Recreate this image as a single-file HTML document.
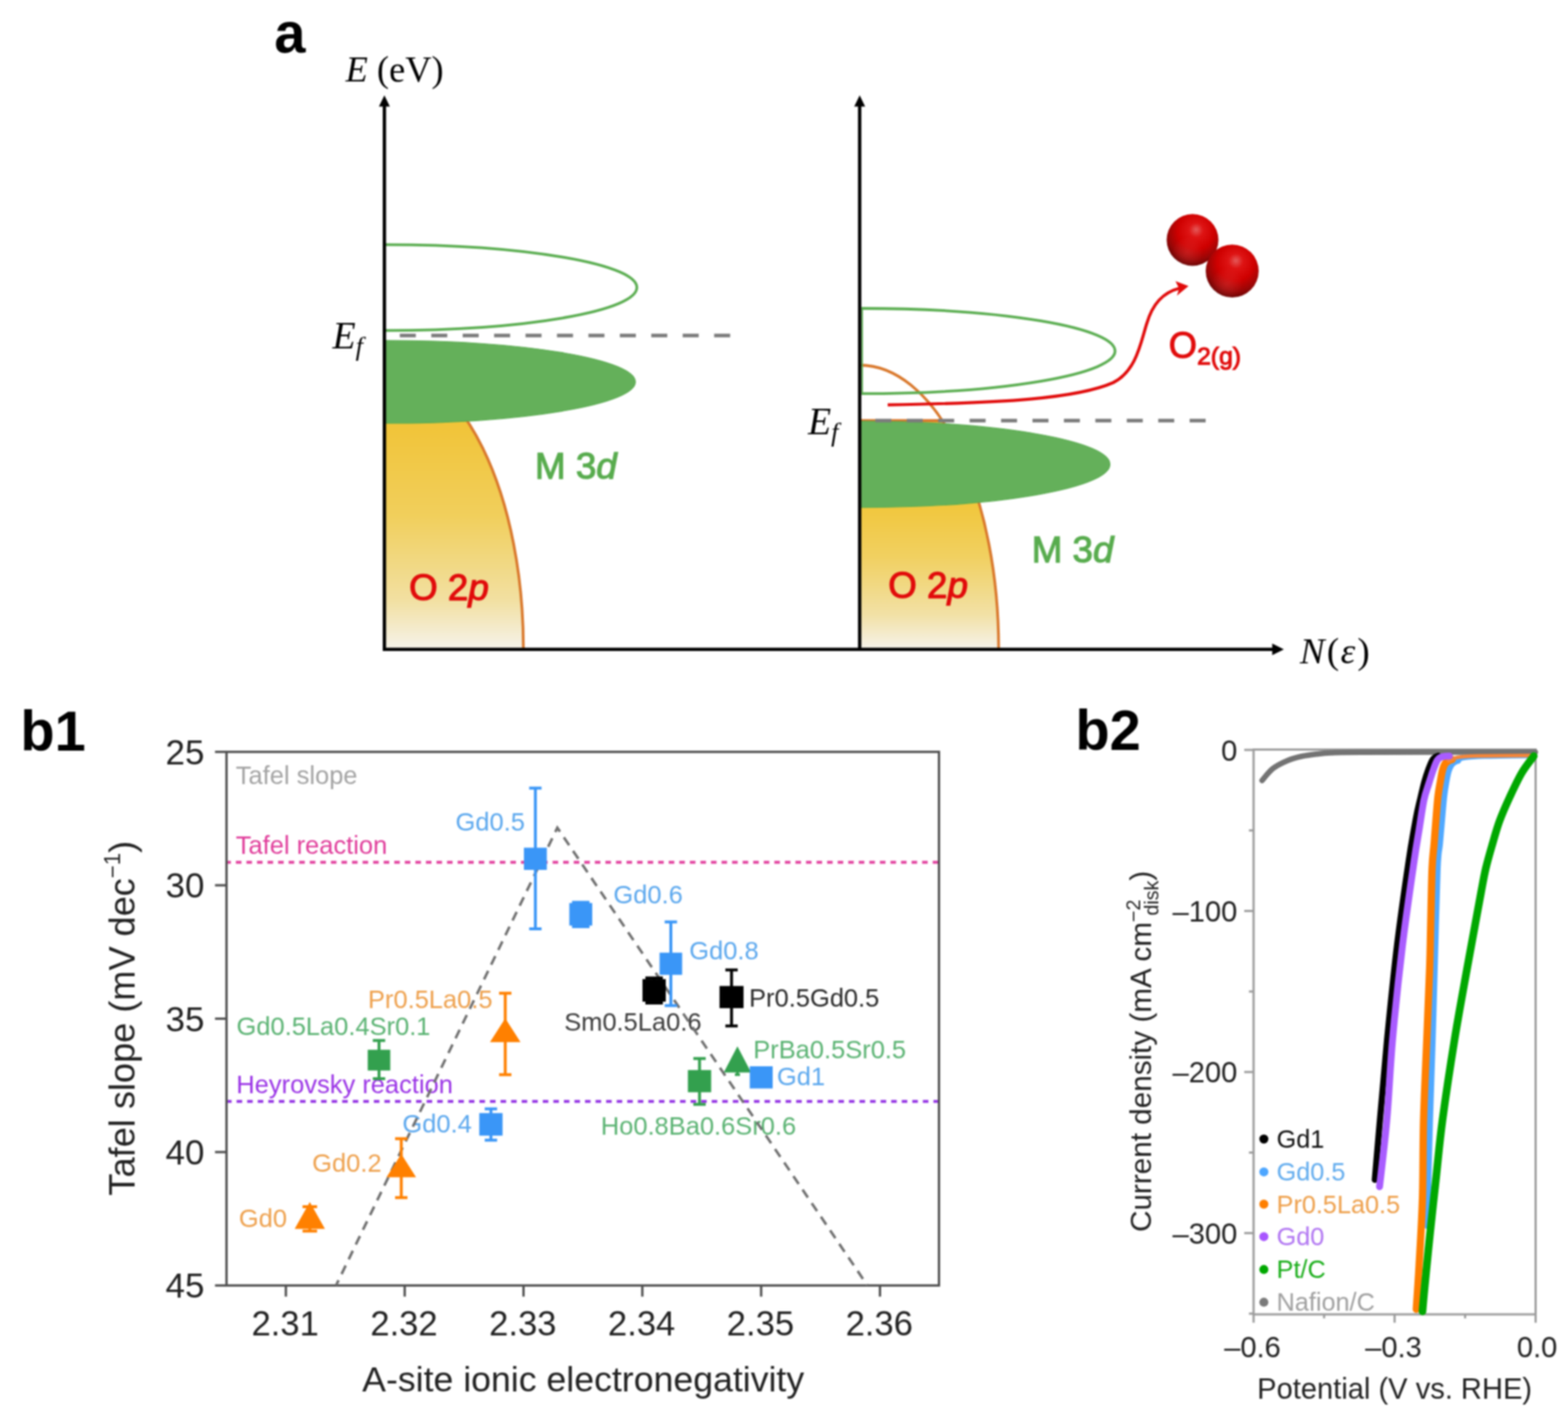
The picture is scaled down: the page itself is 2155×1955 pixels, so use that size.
<!DOCTYPE html>
<html><head><meta charset="utf-8"><title>Figure</title>
<style>
html,body{margin:0;padding:0;background:#fff;}
svg{display:block;}
</style></head>
<body>
<svg xmlns="http://www.w3.org/2000/svg" width="2155" height="1955" viewBox="0 0 2155 1955">
<defs><filter id="soft" color-interpolation-filters="sRGB" filterUnits="userSpaceOnUse" x="0" y="0" width="2155" height="1955"><feGaussianBlur stdDeviation="1"/></filter></defs>
<rect width="2155" height="1955" fill="#fff"/>
<g filter="url(#soft)">
<defs>
<linearGradient id="yel" gradientUnits="userSpaceOnUse" x1="0" y1="560" x2="0" y2="892"><stop offset="0" stop-color="#f1c232"/><stop offset="0.45" stop-color="#f1cf5c"/><stop offset="0.8" stop-color="#f2e0a2"/><stop offset="1" stop-color="#f6f3ea"/></linearGradient>
<linearGradient id="yel2" gradientUnits="userSpaceOnUse" x1="0" y1="680" x2="0" y2="892"><stop offset="0" stop-color="#f1c535"/><stop offset="0.4" stop-color="#f1d060"/><stop offset="0.78" stop-color="#f2e1a6"/><stop offset="1" stop-color="#f6f3ea"/></linearGradient>
<radialGradient id="sph" cx="0.56" cy="0.36" r="0.7" fx="0.57" fy="0.3"><stop offset="0" stop-color="#e45a5a"/><stop offset="0.2" stop-color="#de1414"/><stop offset="0.5" stop-color="#cf0000"/><stop offset="0.76" stop-color="#9a0606"/><stop offset="0.92" stop-color="#6a0404"/><stop offset="1" stop-color="#4a0000"/></radialGradient>
<clipPath id="clipL"><rect x="0" y="525" width="1100" height="368"/></clipPath>
<clipPath id="clipR"><rect x="1100" y="578.5" width="700" height="314"/></clipPath>
</defs>
<text x="377" y="71.5" font-family="'Liberation Sans', Arial, Helvetica, sans-serif" font-weight="bold" font-size="77">a</text>
<text x="475" y="111.5" font-family="'Liberation Serif', 'Times New Roman', serif" font-size="50"><tspan font-style="italic">E</tspan> (eV)</text>
<path d="M528.3,891 L528.3,502 A191,389 0 0 1 719.3,891 Z" fill="url(#yel)" clip-path="url(#clipL)"/>
<path d="M528.3,502 A191,389 0 0 1 719.3,891" fill="none" stroke="#d9782c" stroke-width="3.8"/>
<path d="M528.3,468 A345,57 0 0 1 528.3,582 Z" fill="#64b05a" stroke="#5aab50" stroke-width="1.2"/>
<path d="M529.8,336.3 A345.5,59 0 0 1 529.8,454.3" fill="none" stroke="#5cae52" stroke-width="3.8"/>
<line x1="549.5" y1="461.3" x2="1004" y2="461.3" stroke="#7c7c7c" stroke-width="5" stroke-dasharray="22 21.2"/>
<path d="M1181.5,891 L1181.5,502 A191,389 0 0 1 1372.5,891 Z" fill="url(#yel2)" clip-path="url(#clipR)"/>
<path d="M1181.5,502 A191,389 0 0 1 1372.5,891" fill="none" stroke="#d9782c" stroke-width="3.8"/>
<line x1="1181.5" y1="578.3" x2="1291" y2="578.3" stroke="#d9782c" stroke-width="4"/>
<path d="M1181.5,579.1 A344,59.3 0 0 1 1181.5,697.7 Z" fill="#64b05a" stroke="#5aab50" stroke-width="1.2"/>
<path d="M1184,424 A348.5,58.6 0 0 1 1184,541.2" fill="none" stroke="#5cae52" stroke-width="3.8"/>
<line x1="1185.1" y1="422.9" x2="1185.1" y2="542.3" stroke="#5cae52" stroke-width="2"/>
<line x1="1203" y1="578.3" x2="1657" y2="578.3" stroke="#7c7c7c" stroke-width="5" stroke-dasharray="22 21.2"/>
<path d="M1220,556.6 C1380,554 1480,548 1530,526 C1562,510 1568,470 1576,445 C1584,418 1598,402 1622,396" fill="none" stroke="#e10b0b" stroke-width="4.2"/>
<path d="M1633.5,393.2 L1615.5,386.5 L1620.5,396.8 L1617.5,406.5 Z" fill="#e10b0b"/>
<radialGradient id="refl" cx="0.4" cy="0.74" r="0.3"><stop offset="0" stop-color="#e04848" stop-opacity="0.35"/><stop offset="1" stop-color="#e85050" stop-opacity="0"/></radialGradient>
<circle cx="1639" cy="329.8" r="35.6" fill="url(#sph)"/>
<circle cx="1639" cy="329.8" r="35.6" fill="url(#refl)"/>
<circle cx="1693.5" cy="372.6" r="36.4" fill="url(#sph)"/>
<circle cx="1693.5" cy="372.6" r="36.4" fill="url(#refl)"/>
<line x1="528.3" y1="894.8" x2="528.3" y2="145" stroke="#000" stroke-width="4.6"/>
<path d="M528.3,131 L520.8,146.5 L535.8,146.5 Z" fill="#000"/>
<line x1="1181.5" y1="894.8" x2="1181.5" y2="145" stroke="#000" stroke-width="4.6"/>
<path d="M1181.5,131 L1174,146.5 L1189,146.5 Z" fill="#000"/>
<line x1="526" y1="892.8" x2="1750" y2="892.8" stroke="#000" stroke-width="4.6"/>
<path d="M1764.5,892.8 L1748.5,884.8 L1748.5,900.8 Z" fill="#000"/>
<text x="457" y="478.5" font-family="'Liberation Serif', 'Times New Roman', serif" font-size="52" font-style="italic">E<tspan font-size="36" dy="9">f</tspan></text>
<text x="1110.5" y="596.5" font-family="'Liberation Serif', 'Times New Roman', serif" font-size="52" font-style="italic">E<tspan font-size="36" dy="9">f</tspan></text>
<text x="562.3" y="825" font-family="'Liberation Sans', Arial, Helvetica, sans-serif" font-size="50.5" fill="#e10b0b" stroke="#e10b0b" stroke-width="1.5">O 2<tspan font-style="italic">p</tspan></text>
<text x="735.3" y="658.2" font-family="'Liberation Sans', Arial, Helvetica, sans-serif" font-size="50.5" fill="#58ac4e" stroke="#58ac4e" stroke-width="1.5">M 3<tspan font-style="italic">d</tspan></text>
<text x="1220.8" y="821.5" font-family="'Liberation Sans', Arial, Helvetica, sans-serif" font-size="50.5" fill="#e10b0b" stroke="#e10b0b" stroke-width="1.5">O 2<tspan font-style="italic">p</tspan></text>
<text x="1418" y="772.5" font-family="'Liberation Sans', Arial, Helvetica, sans-serif" font-size="50.5" fill="#58ac4e" stroke="#58ac4e" stroke-width="1.5">M 3<tspan font-style="italic">d</tspan></text>
<text x="1606.3" y="491.5" font-family="'Liberation Sans', Arial, Helvetica, sans-serif" font-size="50" fill="#e10b0b" stroke="#e10b0b" stroke-width="1.3">O<tspan font-size="34" dy="9">2(g)</tspan></text>
<text y="912" font-family="'Liberation Serif', 'Times New Roman', serif" font-size="51"><tspan x="1786.5" font-style="italic">N</tspan><tspan x="1823.5">(</tspan><tspan x="1842.5" font-style="italic">ε</tspan><tspan x="1865.5">)</tspan></text>
<text x="28" y="1032" font-family="'Liberation Sans', Arial, Helvetica, sans-serif" font-weight="bold" font-size="77">b1</text>
<line x1="312.3" y1="1185.5" x2="1290.5" y2="1185.5" stroke="#e2409e" stroke-width="4" stroke-dasharray="7.6 6.91" stroke-dashoffset="2.6"/>
<line x1="312.3" y1="1514.2" x2="1290.5" y2="1514.2" stroke="#9434e4" stroke-width="4" stroke-dasharray="7.6 6.91" stroke-dashoffset="1.6"/>
<rect x="311.3" y="1033.7" width="979.2" height="733.6" fill="none" stroke="#4f4f4f" stroke-width="3.2"/>
<line x1="295.5" y1="1033.7" x2="311.3" y2="1033.7" stroke="#4f4f4f" stroke-width="3.2"/>
<text x="281" y="1050.7" text-anchor="end" font-family="'Liberation Sans', Arial, Helvetica, sans-serif" font-size="48" fill="#222">25</text>
<line x1="295.5" y1="1217.1" x2="311.3" y2="1217.1" stroke="#4f4f4f" stroke-width="3.2"/>
<text x="281" y="1234.1" text-anchor="end" font-family="'Liberation Sans', Arial, Helvetica, sans-serif" font-size="48" fill="#222">30</text>
<line x1="295.5" y1="1400.5" x2="311.3" y2="1400.5" stroke="#4f4f4f" stroke-width="3.2"/>
<text x="281" y="1417.5" text-anchor="end" font-family="'Liberation Sans', Arial, Helvetica, sans-serif" font-size="48" fill="#222">35</text>
<line x1="295.5" y1="1583.9" x2="311.3" y2="1583.9" stroke="#4f4f4f" stroke-width="3.2"/>
<text x="281" y="1600.9" text-anchor="end" font-family="'Liberation Sans', Arial, Helvetica, sans-serif" font-size="48" fill="#222">40</text>
<line x1="295.5" y1="1767.3" x2="311.3" y2="1767.3" stroke="#4f4f4f" stroke-width="3.2"/>
<text x="281" y="1784.3" text-anchor="end" font-family="'Liberation Sans', Arial, Helvetica, sans-serif" font-size="48" fill="#222">45</text>
<line x1="392.9" y1="1767.3" x2="392.9" y2="1782.6" stroke="#4f4f4f" stroke-width="3.2"/>
<text x="391.9" y="1835.8" text-anchor="middle" font-family="'Liberation Sans', Arial, Helvetica, sans-serif" font-size="47.5" fill="#222">2.31</text>
<line x1="556.2" y1="1767.3" x2="556.2" y2="1782.6" stroke="#4f4f4f" stroke-width="3.2"/>
<text x="555.2" y="1835.8" text-anchor="middle" font-family="'Liberation Sans', Arial, Helvetica, sans-serif" font-size="47.5" fill="#222">2.32</text>
<line x1="719.5" y1="1767.3" x2="719.5" y2="1782.6" stroke="#4f4f4f" stroke-width="3.2"/>
<text x="718.5" y="1835.8" text-anchor="middle" font-family="'Liberation Sans', Arial, Helvetica, sans-serif" font-size="47.5" fill="#222">2.33</text>
<line x1="882.8" y1="1767.3" x2="882.8" y2="1782.6" stroke="#4f4f4f" stroke-width="3.2"/>
<text x="881.8" y="1835.8" text-anchor="middle" font-family="'Liberation Sans', Arial, Helvetica, sans-serif" font-size="47.5" fill="#222">2.34</text>
<line x1="1046.1" y1="1767.3" x2="1046.1" y2="1782.6" stroke="#4f4f4f" stroke-width="3.2"/>
<text x="1045.1" y="1835.8" text-anchor="middle" font-family="'Liberation Sans', Arial, Helvetica, sans-serif" font-size="47.5" fill="#222">2.35</text>
<line x1="1209.4" y1="1767.3" x2="1209.4" y2="1782.6" stroke="#4f4f4f" stroke-width="3.2"/>
<text x="1208.4" y="1835.8" text-anchor="middle" font-family="'Liberation Sans', Arial, Helvetica, sans-serif" font-size="47.5" fill="#222">2.36</text>
<text x="801.5" y="1913" text-anchor="middle" font-family="'Liberation Sans', Arial, Helvetica, sans-serif" font-size="49" fill="#222">A-site ionic electronegativity</text>
<text transform="translate(184.5,1399.8) rotate(-90)" text-anchor="middle" font-family="'Liberation Sans', Arial, Helvetica, sans-serif" font-size="49.7" fill="#222">Tafel slope (mV dec<tspan font-size="30.5" dy="-19.3">−1</tspan><tspan dy="19.3">)</tspan></text>
<text x="324" y="1078" font-family="'Liberation Sans', Arial, Helvetica, sans-serif" font-size="35" fill="#a3a3a3">Tafel slope</text>
<text x="324" y="1173.5" font-family="'Liberation Sans', Arial, Helvetica, sans-serif" font-size="35" fill="#e03c9a">Tafel reaction</text>
<text x="324.8" y="1502.8" font-family="'Liberation Sans', Arial, Helvetica, sans-serif" font-size="35" fill="#9a33e6">Heyrovsky reaction</text>
<text x="626" y="1141.8" font-family="'Liberation Sans', Arial, Helvetica, sans-serif" font-size="35" fill="#5ca8ee">Gd0.5</text>
<text x="843" y="1241.8" font-family="'Liberation Sans', Arial, Helvetica, sans-serif" font-size="35" fill="#5ca8ee">Gd0.6</text>
<text x="947.3" y="1318.9" font-family="'Liberation Sans', Arial, Helvetica, sans-serif" font-size="35" fill="#5ca8ee">Gd0.8</text>
<text x="553" y="1556.7" font-family="'Liberation Sans', Arial, Helvetica, sans-serif" font-size="35" fill="#5ca8ee">Gd0.4</text>
<text x="1067.7" y="1492" font-family="'Liberation Sans', Arial, Helvetica, sans-serif" font-size="35" fill="#5ca8ee">Gd1</text>
<text x="505.7" y="1385.7" font-family="'Liberation Sans', Arial, Helvetica, sans-serif" font-size="35" fill="#eea14e">Pr0.5La0.5</text>
<text x="429" y="1611.3" font-family="'Liberation Sans', Arial, Helvetica, sans-serif" font-size="35" fill="#eea14e">Gd0.2</text>
<text x="328.3" y="1687.4" font-family="'Liberation Sans', Arial, Helvetica, sans-serif" font-size="35" fill="#eea14e">Gd0</text>
<text x="325" y="1423.4" font-family="'Liberation Sans', Arial, Helvetica, sans-serif" font-size="35" fill="#5bb373">Gd0.5La0.4Sr0.1</text>
<text x="1035.2" y="1455.3" font-family="'Liberation Sans', Arial, Helvetica, sans-serif" font-size="35" fill="#5bb373">PrBa0.5Sr0.5</text>
<text x="825.7" y="1559.7" font-family="'Liberation Sans', Arial, Helvetica, sans-serif" font-size="35" fill="#5bb373">Ho0.8Ba0.6Sr0.6</text>
<text x="775.4" y="1417" font-family="'Liberation Sans', Arial, Helvetica, sans-serif" font-size="35" fill="#3c3c3c">Sm0.5La0.6</text>
<text x="1029.5" y="1383.5" font-family="'Liberation Sans', Arial, Helvetica, sans-serif" font-size="35" fill="#2a2a2a">Pr0.5Gd0.5</text>
<path d="M462,1767 L766,1138 L1192,1767" fill="none" stroke="#707070" stroke-width="3.6" stroke-dasharray="13 9.5" stroke-dashoffset="5.4" stroke-linejoin="miter"/>
<line x1="425.8" y1="1659" x2="425.8" y2="1692.5" stroke="#ff8000" stroke-width="4"/>
<line x1="415.8" y1="1659" x2="435.8" y2="1659" stroke="#ff8000" stroke-width="4"/>
<line x1="415.8" y1="1692.5" x2="435.8" y2="1692.5" stroke="#ff8000" stroke-width="4"/>
<path d="M425.8,1652.5 L405,1689.5 L446.6,1689.5 Z" fill="#ff8000"/>
<line x1="551.5" y1="1565.5" x2="551.5" y2="1646.5" stroke="#ff8000" stroke-width="4"/>
<line x1="543" y1="1565.5" x2="560" y2="1565.5" stroke="#ff8000" stroke-width="4"/>
<line x1="543" y1="1646.5" x2="560" y2="1646.5" stroke="#ff8000" stroke-width="4"/>
<path d="M551.5,1586.5 L531.2,1618.5 L571.8,1618.5 Z" fill="#ff8000"/>
<line x1="694.4" y1="1365.5" x2="694.4" y2="1477.5" stroke="#ff8000" stroke-width="4"/>
<line x1="685.9" y1="1365.5" x2="702.9" y2="1365.5" stroke="#ff8000" stroke-width="4"/>
<line x1="685.9" y1="1477.5" x2="702.9" y2="1477.5" stroke="#ff8000" stroke-width="4"/>
<path d="M694.4,1400 L673.4,1432.8 L715.4,1432.8 Z" fill="#ff8000"/>
<line x1="520.9" y1="1430.5" x2="520.9" y2="1483" stroke="#33a04e" stroke-width="4"/>
<line x1="512.4" y1="1430.5" x2="529.4" y2="1430.5" stroke="#33a04e" stroke-width="4"/>
<line x1="512.4" y1="1483" x2="529.4" y2="1483" stroke="#33a04e" stroke-width="4"/>
<rect x="505.4" y="1443.25" width="31" height="28.5" fill="#33a04e"/>
<line x1="674.7" y1="1524.5" x2="674.7" y2="1567.5" stroke="#3a96f7" stroke-width="4"/>
<line x1="666.2" y1="1524.5" x2="683.2" y2="1524.5" stroke="#3a96f7" stroke-width="4"/>
<line x1="666.2" y1="1567.5" x2="683.2" y2="1567.5" stroke="#3a96f7" stroke-width="4"/>
<rect x="658.7" y="1530.3" width="32" height="31" fill="#3a96f7"/>
<line x1="735.8" y1="1083.5" x2="735.8" y2="1277" stroke="#3a96f7" stroke-width="4"/>
<line x1="727.3" y1="1083.5" x2="744.3" y2="1083.5" stroke="#3a96f7" stroke-width="4"/>
<line x1="727.3" y1="1277" x2="744.3" y2="1277" stroke="#3a96f7" stroke-width="4"/>
<rect x="720.05" y="1165.45" width="31.5" height="30.5" fill="#3a96f7"/>
<line x1="798.2" y1="1240.5" x2="798.2" y2="1274" stroke="#3a96f7" stroke-width="4"/>
<line x1="786.2" y1="1240.5" x2="810.2" y2="1240.5" stroke="#3a96f7" stroke-width="4"/>
<line x1="786.2" y1="1274" x2="810.2" y2="1274" stroke="#3a96f7" stroke-width="4"/>
<rect x="782.45" y="1241.5" width="31.5" height="31" fill="#3a96f7"/>
<line x1="922" y1="1267.5" x2="922" y2="1382.5" stroke="#3a96f7" stroke-width="4"/>
<line x1="913.5" y1="1267.5" x2="930.5" y2="1267.5" stroke="#3a96f7" stroke-width="4"/>
<line x1="913.5" y1="1382.5" x2="930.5" y2="1382.5" stroke="#3a96f7" stroke-width="4"/>
<rect x="906.5" y="1309.75" width="31" height="30.5" fill="#3a96f7"/>
<line x1="899" y1="1344.5" x2="899" y2="1379" stroke="#000" stroke-width="4"/>
<line x1="887" y1="1344.5" x2="911" y2="1344.5" stroke="#000" stroke-width="4"/>
<line x1="887" y1="1379" x2="911" y2="1379" stroke="#000" stroke-width="4"/>
<rect x="883" y="1346.1" width="32" height="31" fill="#000"/>
<line x1="1005.4" y1="1333.5" x2="1005.4" y2="1410.5" stroke="#000" stroke-width="4"/>
<line x1="996.9" y1="1333.5" x2="1013.9" y2="1333.5" stroke="#000" stroke-width="4"/>
<line x1="996.9" y1="1410.5" x2="1013.9" y2="1410.5" stroke="#000" stroke-width="4"/>
<rect x="988.9" y="1355.55" width="33" height="30.5" fill="#000"/>
<line x1="961.4" y1="1455.3" x2="961.4" y2="1518.3" stroke="#33a04e" stroke-width="4"/>
<line x1="952.9" y1="1455.3" x2="969.9" y2="1455.3" stroke="#33a04e" stroke-width="4"/>
<line x1="952.9" y1="1518.3" x2="969.9" y2="1518.3" stroke="#33a04e" stroke-width="4"/>
<rect x="945.4" y="1471.15" width="32" height="30.5" fill="#33a04e"/>
<line x1="1013.5" y1="1468" x2="1013.5" y2="1477.5" stroke="#33a04e" stroke-width="3.5"/>
<line x1="1010" y1="1468" x2="1017" y2="1468" stroke="#33a04e" stroke-width="3.5"/>
<line x1="1010" y1="1477.5" x2="1017" y2="1477.5" stroke="#33a04e" stroke-width="3.5"/>
<path d="M1013.5,1438.5 L994.7,1474.5 L1032.3,1474.5 Z" fill="#33a04e"/>
<rect x="1030.45" y="1465.95" width="31.5" height="30.5" fill="#3a96f7"/>
<text x="1478" y="1031" font-family="'Liberation Sans', Arial, Helvetica, sans-serif" font-weight="bold" font-size="77">b2</text>
<rect x="1722.9" y="1030.5" width="387.6" height="776.5" fill="none" stroke="#9c9c9c" stroke-width="3"/>
<line x1="1710" y1="1031" x2="1722.9" y2="1031" stroke="#9c9c9c" stroke-width="3"/>
<text x="1700.5" y="1045.6" text-anchor="end" font-family="'Liberation Sans', Arial, Helvetica, sans-serif" font-size="40" fill="#222">0</text>
<line x1="1716.5" y1="1141.71" x2="1722.9" y2="1141.71" stroke="#9c9c9c" stroke-width="3"/>
<line x1="1710" y1="1252.43" x2="1722.9" y2="1252.43" stroke="#9c9c9c" stroke-width="3"/>
<text x="1700.5" y="1267.03" text-anchor="end" font-family="'Liberation Sans', Arial, Helvetica, sans-serif" font-size="40" fill="#222">–100</text>
<line x1="1716.5" y1="1363.14" x2="1722.9" y2="1363.14" stroke="#9c9c9c" stroke-width="3"/>
<line x1="1710" y1="1473.86" x2="1722.9" y2="1473.86" stroke="#9c9c9c" stroke-width="3"/>
<text x="1700.5" y="1488.46" text-anchor="end" font-family="'Liberation Sans', Arial, Helvetica, sans-serif" font-size="40" fill="#222">–200</text>
<line x1="1716.5" y1="1584.58" x2="1722.9" y2="1584.58" stroke="#9c9c9c" stroke-width="3"/>
<line x1="1710" y1="1695.29" x2="1722.9" y2="1695.29" stroke="#9c9c9c" stroke-width="3"/>
<text x="1700.5" y="1709.89" text-anchor="end" font-family="'Liberation Sans', Arial, Helvetica, sans-serif" font-size="40" fill="#222">–300</text>
<line x1="1716.5" y1="1806.01" x2="1722.9" y2="1806.01" stroke="#9c9c9c" stroke-width="3"/>
<line x1="1722.9" y1="1807" x2="1722.9" y2="1818.5" stroke="#9c9c9c" stroke-width="3"/>
<text x="1721.4" y="1866.3" text-anchor="middle" font-family="'Liberation Sans', Arial, Helvetica, sans-serif" font-size="40" fill="#222">–0.6</text>
<line x1="1819.8" y1="1807" x2="1819.8" y2="1812.5" stroke="#9c9c9c" stroke-width="3"/>
<line x1="1916.7" y1="1807" x2="1916.7" y2="1818.5" stroke="#9c9c9c" stroke-width="3"/>
<text x="1915.2" y="1866.3" text-anchor="middle" font-family="'Liberation Sans', Arial, Helvetica, sans-serif" font-size="40" fill="#222">–0.3</text>
<line x1="2013.6" y1="1807" x2="2013.6" y2="1812.5" stroke="#9c9c9c" stroke-width="3"/>
<line x1="2110.5" y1="1807" x2="2110.5" y2="1818.5" stroke="#9c9c9c" stroke-width="3"/>
<text x="2112.5" y="1866.3" text-anchor="middle" font-family="'Liberation Sans', Arial, Helvetica, sans-serif" font-size="40" fill="#222">0.0</text>
<path d="M1734.6,1073 C1737.08,1070.27 1743.7,1061.15 1749.5,1056.6 C1755.3,1052.05 1762.78,1048.5 1769.4,1045.7 C1776.02,1042.9 1782.6,1041.28 1789.2,1039.8 C1795.8,1038.32 1802.38,1037.6 1809,1036.8 C1815.62,1036 1818.73,1035.43 1828.9,1035 C1839.07,1034.57 1823.15,1034.37 1870,1034.2 C1916.85,1034.03 2070,1034.03 2110,1034" fill="none" stroke="#737373" stroke-width="7.6" stroke-linecap="round" stroke-linejoin="round"/>
<path d="M1889.5,1622 C1890.67,1608.33 1893.67,1572.33 1896.5,1540 C1899.33,1507.67 1902.58,1468 1906.5,1428 C1910.42,1388 1915.08,1340.67 1920,1300 C1924.92,1259.33 1931.67,1213.17 1936,1184 C1940.33,1154.83 1943.42,1139 1946,1125 C1948.58,1111 1949.58,1108.33 1951.5,1100 C1953.42,1091.67 1955.58,1082 1957.5,1075 C1959.42,1068 1961.17,1063 1963,1058 C1964.83,1053 1966.92,1047.83 1968.5,1045 C1970.08,1042.17 1971.17,1042 1972.5,1041 C1973.83,1040 1975.83,1039.33 1976.5,1039" fill="none" stroke="#000000" stroke-width="8.5" stroke-linecap="round" stroke-linejoin="round"/>
<path d="M1961,1685 C1961.67,1660.83 1963.72,1582.83 1965,1540 C1966.28,1497.17 1967.62,1463 1968.7,1428 C1969.78,1393 1970.37,1369 1971.5,1330 C1972.63,1291 1974.3,1222.33 1975.5,1194 C1976.7,1165.67 1977.7,1171 1978.7,1160 C1979.7,1149 1980.53,1138.83 1981.5,1128 C1982.47,1117.17 1983.5,1103.83 1984.5,1095 C1985.5,1086.17 1986.47,1080.83 1987.5,1075 C1988.53,1069.17 1989.45,1064 1990.7,1060 C1991.95,1056 1993.45,1053.17 1995,1051 C1996.55,1048.83 1998.5,1047.92 2000,1047 C2001.5,1046.08 2003.33,1045.75 2004,1045.5" fill="none" stroke="#4fa8ff" stroke-width="9" stroke-linecap="round" stroke-linejoin="round"/>
<path d="M1999,1047 C2001.17,1046.33 2005.17,1044 2012,1043 C2018.83,1042 2023.67,1041.47 2040,1041 C2056.33,1040.53 2098.33,1040.33 2110,1040.2" fill="none" stroke="#4fa8ff" stroke-width="4.5" stroke-linecap="round" stroke-linejoin="round"/>
<path d="M1946.5,1800 C1947.15,1789.83 1948.98,1764.5 1950.4,1739 C1951.82,1713.5 1953.98,1680.17 1955,1647 C1956.02,1613.83 1955.5,1576.5 1956.5,1540 C1957.5,1503.5 1959.6,1463 1961,1428 C1962.4,1393 1964.03,1355.33 1964.9,1330 C1965.77,1304.67 1965.65,1298.67 1966.2,1276 C1966.75,1253.33 1967.4,1213.33 1968.2,1194 C1969,1174.67 1970.12,1171 1971,1160 C1971.88,1149 1972.62,1138.83 1973.5,1128 C1974.38,1117.17 1975.3,1103.83 1976.3,1095 C1977.3,1086.17 1978.5,1080.83 1979.5,1075 C1980.5,1069.17 1981.22,1064.17 1982.3,1060 C1983.38,1055.83 1984.55,1052.33 1986,1050 C1987.45,1047.67 1989.33,1047 1991,1046 C1992.67,1045 1995.17,1044.33 1996,1044" fill="none" stroke="#ff7f00" stroke-width="10" stroke-linecap="round" stroke-linejoin="round"/>
<path d="M1991,1046 C1993,1045.22 1996.5,1042.43 2003,1041.3 C2009.5,1040.17 2012.17,1039.62 2030,1039.2 C2047.83,1038.78 2096.67,1038.87 2110,1038.8" fill="none" stroke="#f4863a" stroke-width="5" stroke-linecap="round" stroke-linejoin="round"/>
<path d="M1896,1631.5 C1897.67,1616.25 1903,1573.92 1906,1540 C1909,1506.08 1910.42,1468 1914,1428 C1917.58,1388 1922.58,1340.67 1927.5,1300 C1932.42,1259.33 1939.67,1210.67 1943.5,1184 C1947.33,1157.33 1948.25,1154 1950.5,1140 C1952.75,1126 1954.83,1110.33 1957,1100 C1959.17,1089.67 1961.33,1085 1963.5,1078 C1965.67,1071 1968,1063.5 1970,1058 C1972,1052.5 1973.75,1047.83 1975.5,1045 C1977.25,1042.17 1978.75,1041.87 1980.5,1041 C1982.25,1040.13 1984.08,1040.05 1986,1039.8 C1987.92,1039.55 1991,1039.55 1992,1039.5" fill="none" stroke="#a95cff" stroke-width="9.5" stroke-linecap="round" stroke-linejoin="round"/>
<path d="M1955,1803 C1955.5,1797.45 1956.22,1788.03 1958,1769.7 C1959.78,1751.37 1963.03,1718.52 1965.7,1693 C1968.37,1667.48 1971.2,1642.1 1974,1616.6 C1976.8,1591.1 1978.28,1571.43 1982.5,1540 C1986.72,1508.57 1993.62,1463 1999.3,1428 C2004.98,1393 2012.07,1355.33 2016.6,1330 C2021.13,1304.67 2023.35,1293.17 2026.5,1276 C2029.65,1258.83 2032.92,1240.67 2035.5,1227 C2038.08,1213.33 2039.42,1205 2042,1194 C2044.58,1183 2047.83,1171.92 2051,1161 C2054.17,1150.08 2057,1139.4 2061,1128.5 C2065,1117.6 2069.95,1106.55 2075,1095.6 C2080.05,1084.65 2085.8,1072.15 2091.3,1062.8 C2096.8,1053.45 2105.22,1043.38 2108,1039.5" fill="none" stroke="#00a800" stroke-width="10.5" stroke-linecap="round" stroke-linejoin="round"/>
<text x="1916.7" y="1923.3" text-anchor="middle" font-family="'Liberation Sans', Arial, Helvetica, sans-serif" font-size="40" fill="#222">Potential (V vs. RHE)</text>
<text transform="translate(1582,1445.5) rotate(-90)" text-anchor="middle" font-family="'Liberation Sans', Arial, Helvetica, sans-serif" font-size="40.8" fill="#222">Current density (mA cm<tspan font-size="27" dy="-15">−2</tspan><tspan font-size="27" dx="-22" dy="25">disk</tspan><tspan dy="-10">)</tspan></text>
<circle cx="1737" cy="1566" r="6.2" fill="#000000"/>
<text x="1754.5" y="1578" font-family="'Liberation Sans', Arial, Helvetica, sans-serif" font-size="34.7" fill="#111111">Gd1</text>
<circle cx="1737" cy="1611.2" r="6.2" fill="#4da6ff"/>
<text x="1754.5" y="1623.2" font-family="'Liberation Sans', Arial, Helvetica, sans-serif" font-size="34.7" fill="#62acee">Gd0.5</text>
<circle cx="1737" cy="1655.5" r="6.2" fill="#ff7f00"/>
<text x="1754.5" y="1667.5" font-family="'Liberation Sans', Arial, Helvetica, sans-serif" font-size="34.7" fill="#eea04c">Pr0.5La0.5</text>
<circle cx="1737" cy="1700.2" r="6.2" fill="#a855ff"/>
<text x="1754.5" y="1712.2" font-family="'Liberation Sans', Arial, Helvetica, sans-serif" font-size="34.7" fill="#b176f2">Gd0</text>
<circle cx="1737" cy="1745.3" r="6.2" fill="#00a800"/>
<text x="1754.5" y="1757.3" font-family="'Liberation Sans', Arial, Helvetica, sans-serif" font-size="34.7" fill="#1aae1a">Pt/C</text>
<circle cx="1737" cy="1790.3" r="6.2" fill="#7a7a7a"/>
<text x="1754.5" y="1802.3" font-family="'Liberation Sans', Arial, Helvetica, sans-serif" font-size="34.7" fill="#a0a0a0">Nafion/C</text>
</g>
</svg>
</body></html>
